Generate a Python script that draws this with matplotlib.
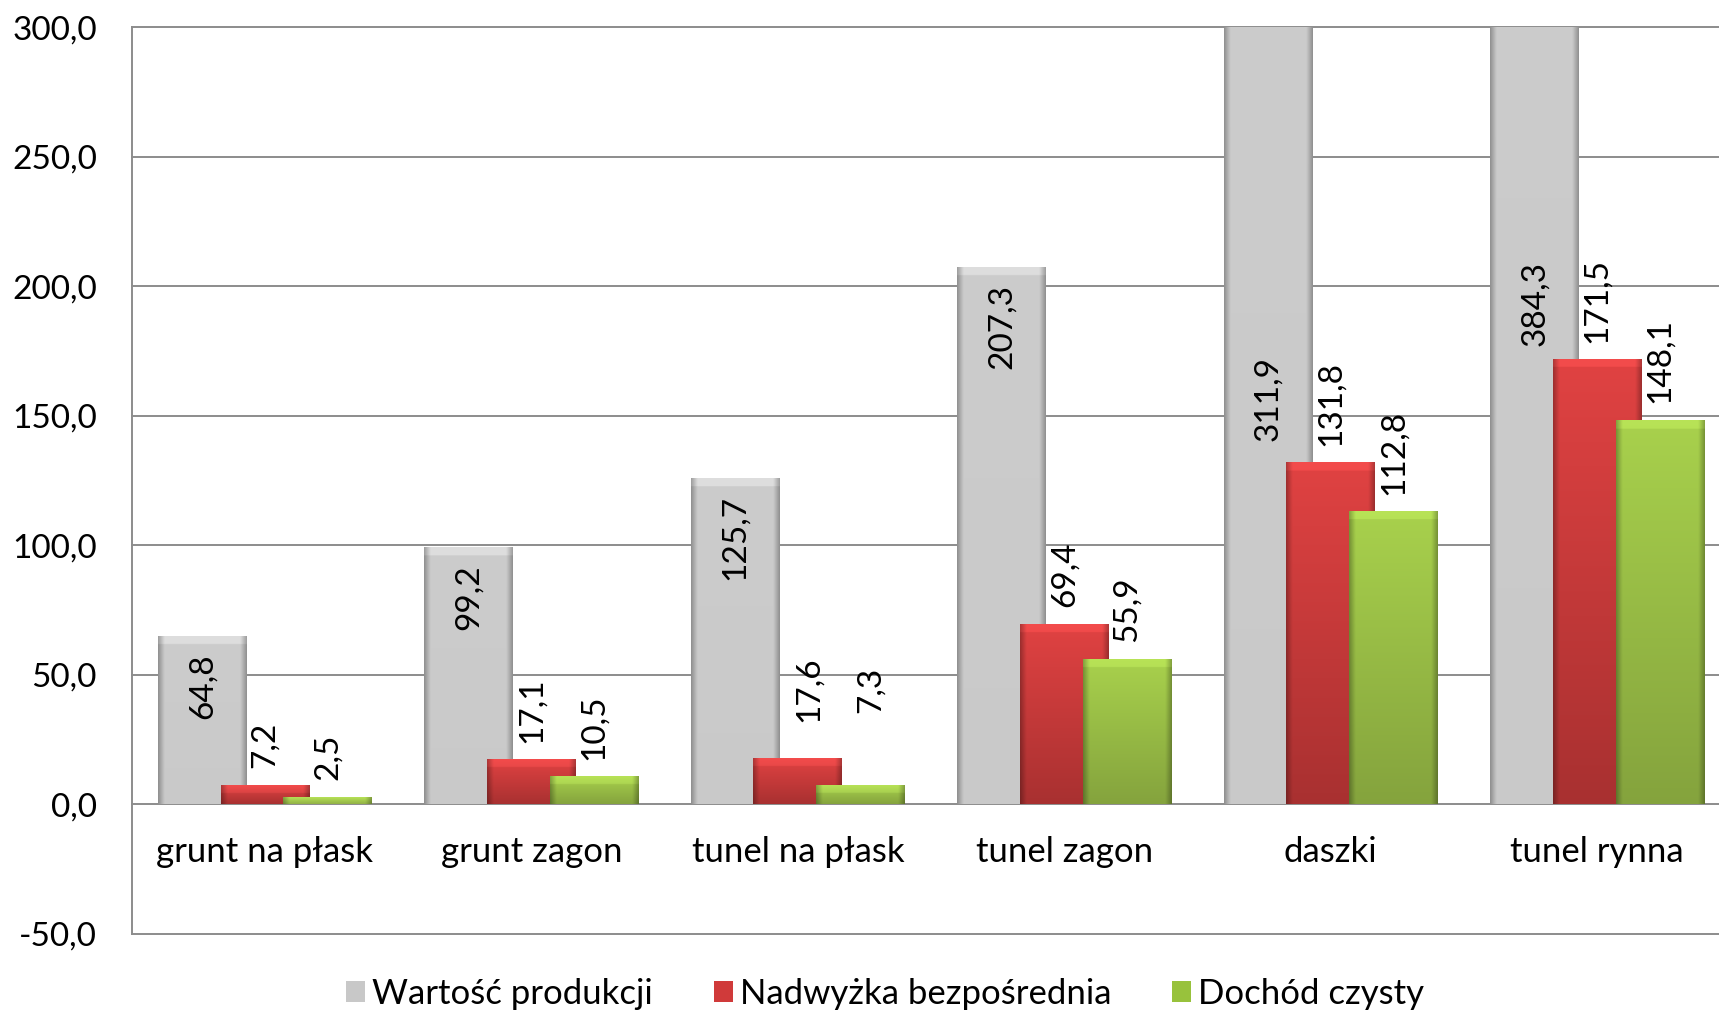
import numpy as np
import matplotlib
matplotlib.use("Agg")
import matplotlib.pyplot as plt
from matplotlib.patches import Patch
from matplotlib.ticker import FuncFormatter

plt.rcParams['font.family'] = ['Lato', 'DejaVu Sans']

# dane
kategorie = ['grunt na płask', 'grunt zagon', 'tunel na płask', 'tunel zagon', 'daszki', 'tunel rynna']
serie = ['Wartość produkcji', 'Nadwyżka bezpośrednia', 'Dochód czysty']
wartosc_produkcji = [64.8, 99.2, 125.7, 207.3, 311.9, 384.3]
nadwyzka_bezposrednia = [7.2, 17.1, 17.6, 69.4, 131.8, 171.5]
dochod_czysty = [2.5, 10.5, 7.3, 55.9, 112.8, 148.1]
y_ticks = [-50, 0, 50, 100, 150, 200, 250, 300]

# kolory: gora / dol slupka
kolor_gora = [(0.80, 0.80, 0.80), (0.88, 0.26, 0.26), (0.66, 0.82, 0.30)]
kolor_dol = [(0.79, 0.79, 0.79), (0.66, 0.19, 0.19), (0.52, 0.64, 0.24)]
kolor_legenda = ['#c8c8c8', '#d03a3a', '#98c23c']

# polozenie etykiet: 'out' nad slupkiem, 'in' w srodku, liczba = dol etykiety (dane)
etykiety_poz = [
    ['in', 'in', 'in', 'in', 140.3, 177.0],
    ['out', 'out', 31.8, 'out', 'out', 'out'],
    ['out', 'out', 35.2, 'out', 'out', 'out'],
]
etykiety_dx = [
    [0, 0, 0, 0, 0, 0],
    [0, 0, 0.04, 0, 0, 0],
    [0, 0, 0.04, 0, 0, 0],
]

szer = 0.333
przes = [-0.235, 0.0, 0.235]
fs_liczby = 24
fs_tekst = 25


def przecinek(v):
    return f"{v:.1f}".replace('.', ',')


def slupek(ax, xc, h, gora, dol, z):
    """Slupek z gradientem pionowym, ciemniejszymi brzegami i jasnym gornym fazowaniem."""
    ny, nx = 400, 80
    t = np.linspace(0, 1, ny)[:, None, None]
    s = np.linspace(0, 1, nx)[None, :, None]
    img = (1 - t) * np.array(gora) + t * np.array(dol)
    img = np.broadcast_to(img, (ny, nx, 3)).copy()
    brzeg = np.minimum(s, 1 - s)
    img *= 0.72 + 0.28 * np.clip(brzeg / 0.07, 0, 1)
    yy = (1 - np.linspace(0, 1, ny)) * h
    bevel = (h - yy) < 3.0
    img[bevel] = np.clip(img[bevel] * 1.06 + 0.02, 0, 1)
    ax.imshow(img, extent=(xc - szer / 2, xc + szer / 2, 0, h), origin='upper',
              aspect='auto', interpolation='bilinear', zorder=z)


fig = plt.figure(figsize=(17.19, 10.13), dpi=100)
ax = fig.add_axes([0.0766, 0.078, 1.0067 - 0.0766, 0.973 - 0.078])

wartosci = [wartosc_produkcji, nadwyzka_bezposrednia, dochod_czysty]
x = np.arange(len(kategorie))

for k, seria in enumerate(wartosci):
    for i, v in enumerate(seria):
        xc = x[i] + przes[k]
        slupek(ax, xc, v, kolor_gora[k], kolor_dol[k], 2 + k)
        poz = etykiety_poz[k][i]
        xl = xc + etykiety_dx[k][i]
        if poz == 'out':
            ax.annotate(przecinek(v), (xl, v), xytext=(0, 12.6), textcoords='offset points',
                        rotation=90, ha='center', va='bottom', fontsize=fs_liczby, zorder=10)
        elif poz == 'in':
            ax.annotate(przecinek(v), (xl, v), xytext=(0, -11.8), textcoords='offset points',
                        rotation=90, ha='center', va='top', fontsize=fs_liczby, zorder=10)
        else:
            ax.text(xl, poz, przecinek(v), rotation=90, ha='center', va='bottom',
                    fontsize=fs_liczby, zorder=10)

# linie siatki
for yt in y_ticks:
    ax.axhline(yt, color='#8c8c8c', lw=1.4, zorder=1, clip_on=False)

ax.set_xlim(-0.5, 5.5)
ax.set_ylim(-50, 300)
ax.set_yticks(y_ticks)
ax.yaxis.set_major_formatter(FuncFormatter(lambda v, p: przecinek(v)))
ax.set_xticks(x)
ax.set_xticklabels(kategorie)
ax.tick_params(axis='y', length=0, pad=25, labelsize=fs_liczby)
ax.tick_params(axis='x', length=0, pad=23, labelsize=fs_tekst)

for nazwa in ['top', 'right']:
    ax.spines[nazwa].set_visible(False)
ax.spines['bottom'].set_position(('data', 0))
ax.spines['bottom'].set_visible(False)
ax.spines['left'].set_color('#8c8c8c')
ax.spines['left'].set_linewidth(1.4)

uchwyty = [Patch(facecolor=c, edgecolor='none', label=n) for c, n in zip(kolor_legenda, serie)]
fig.legend(handles=uchwyty, loc='center', bbox_to_anchor=(0.515, 1 - 994 / 1013), ncol=3,
           frameon=False, fontsize=fs_tekst, handlelength=0.55, handleheight=0.55,
           handletextpad=0.2, columnspacing=1.75)

fig.savefig('out.png', dpi=100)
